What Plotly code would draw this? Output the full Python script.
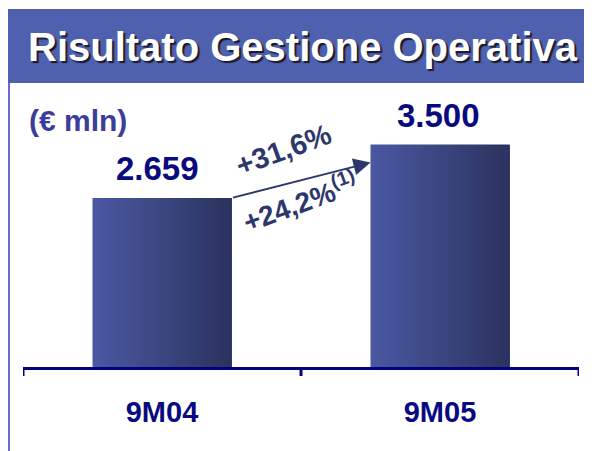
import plotly.graph_objects as go

# The page body adds an 8px margin, so the figure is drawn 8px smaller and
# all reference pixel positions are shifted by that offset.
OFF = 8
W, H = 592 - OFF, 451 - OFF

categories = ["9M04", "9M05"]
values = [2659, 3500]
value_labels = ["2.659", "3.500"]
growth_labels = ["+31,6%", "+24,2%<sup>(1)</sup>"]
unit_label = "(€ mln)"
title_text = "Risultato Gestione Operativa"

FONT = "Liberation Sans, Arial, Helvetica, sans-serif"
NAVY = "#0a0a80"
SLATE = "#2d376c"

def px(x):
    return (x - OFF) / W

def py(y):
    return 1 - (y - OFF) / H

# plot area geometry (reference pixels)
x_left, x_right = 23, 579
y_zero, y_top = 367, 85
scale = (y_zero - 198) / values[0]          # px per unit
y_max = (y_zero - y_top) / scale
bar_w = 0.5

fig = go.Figure()
fig.add_trace(go.Bar(
    x=[0, 1], y=values, width=bar_w,
    marker=dict(color="#3a4580", line=dict(width=0)),
    hoverinfo="skip", showlegend=False,
))
# gradient shading over each bar (light left -> dark right)
for i, v in enumerate(values):
    x0, x1 = i - bar_w / 2, i + bar_w / 2
    fig.add_trace(go.Scatter(
        x=[x0, x1, x1, x0, x0], y=[0, 0, v, v, 0], mode="lines", fill="toself",
        line=dict(width=0),
        fillgradient=dict(type="horizontal",
                          colorscale=[[0, "#4a58a3"], [0.5, "#3b4680"], [1, "#2b325e"]]),
        hoverinfo="skip", showlegend=False,
    ))

# value labels
label_shift = [-5, -2]
for i, (v, lab) in enumerate(zip(values, value_labels)):
    fig.add_annotation(x=i, y=v, xref="x", yref="y", text=lab,
                       showarrow=False, yanchor="bottom", yshift=9, xshift=label_shift[i],
                       font=dict(family=FONT, size=33, color=NAVY, weight="bold"))

# growth arrow between bar tops
fig.add_annotation(x=1 - bar_w / 2, y=values[1] - 18 / scale, ax=0 + bar_w / 2, ay=values[0],
                   xref="x", yref="y", axref="x", ayref="y", text="",
                   showarrow=True, arrowhead=2, arrowsize=1.7, arrowwidth=2,
                   arrowcolor=SLATE)

fig.add_annotation(x=px(283), y=py(150), xref="paper", yref="paper", text=growth_labels[0],
                   showarrow=False, textangle=-20, xanchor="center", yanchor="middle",
                   font=dict(family=FONT, size=29, color=SLATE, weight="bold"))
fig.add_annotation(x=px(300), y=py(201), xref="paper", yref="paper", text=growth_labels[1],
                   showarrow=False, textangle=-20, xanchor="center", yanchor="middle",
                   font=dict(family=FONT, size=28, color=SLATE, weight="bold"))

# unit label
fig.add_annotation(x=px(78), y=py(121), xref="paper", yref="paper", text=unit_label,
                   showarrow=False, xanchor="center", yanchor="middle",
                   font=dict(family=FONT, size=30, color="#3c3c9a", weight="bold"))

# title banner
fig.add_shape(type="rect", xref="paper", yref="paper", x0=px(7), x1=1.0, y0=py(83), y1=py(9),
              fillcolor="#4f60ae", line=dict(width=0), layer="below")
fig.add_shape(type="line", xref="paper", yref="paper", x0=px(9), x1=px(9), y0=py(83), y1=0,
              line=dict(color="#6b6bc4", width=2))
fig.add_annotation(x=px(303), y=py(47), xref="paper", yref="paper", text=title_text,
                   showarrow=False, xanchor="center", yanchor="middle",
                   font=dict(family=FONT, size=40, color="white", weight="bold",
                             shadow="2px 2px 1px #1a1a2a"))

fig.update_layout(
    width=W, height=H, margin=dict(l=0, r=0, t=0, b=0),
    paper_bgcolor="white", plot_bgcolor="white",
    xaxis=dict(domain=[px(x_left), px(x_right)], range=[-0.5, 1.5],
               tickmode="array", tickvals=[0, 1], ticktext=categories,
               showgrid=False, zeroline=False, showline=True, linecolor="#000080", linewidth=3,
               ticks="", ticklabelstandoff=17,
               tickfont=dict(family=FONT, size=29, color=NAVY, weight="bold")),
    yaxis=dict(domain=[py(y_zero), py(y_top)], range=[0, y_max], visible=False),
    bargap=0,
)

# ticks at category boundaries
for xb in [-0.5, 0.5, 1.5]:
    fig.add_shape(type="line", xref="x", yref="paper", x0=xb, x1=xb, y0=py(y_zero), y1=py(y_zero + 9),
                  line=dict(color="#000080", width=3))

fig.write_html("out.html")
